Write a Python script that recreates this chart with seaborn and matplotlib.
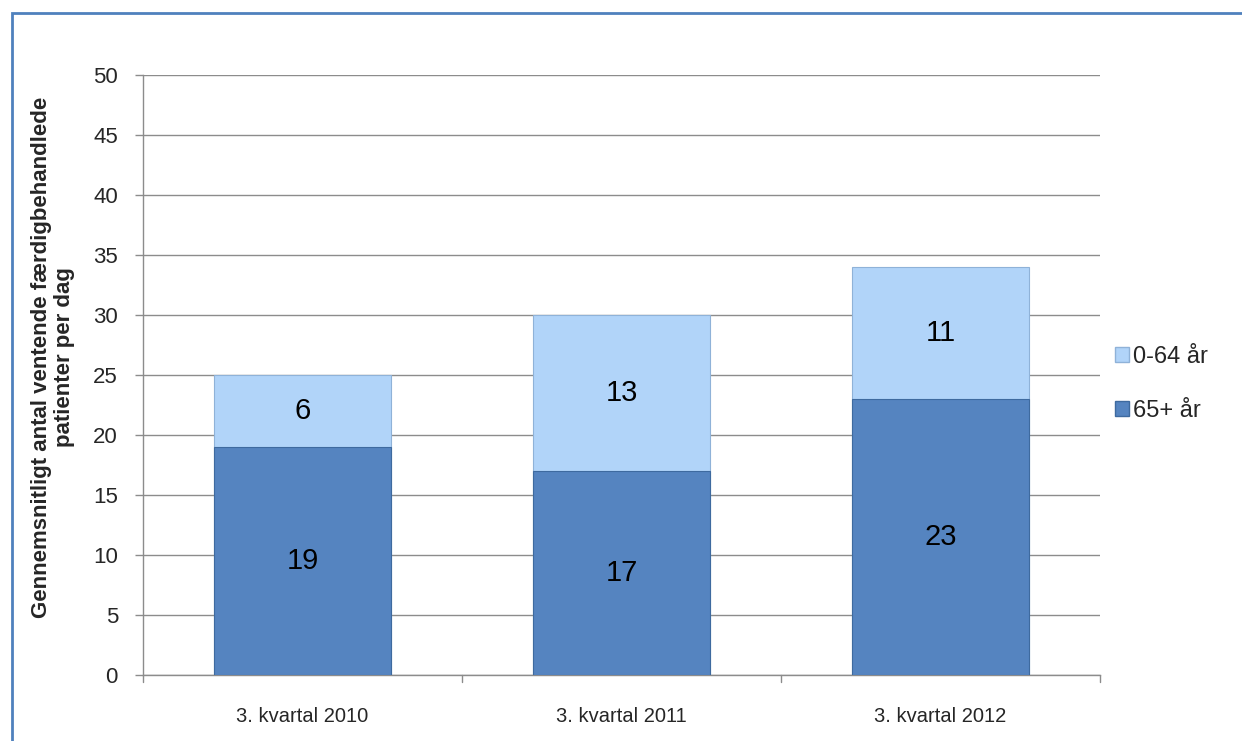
import matplotlib
matplotlib.use("Agg")
import matplotlib.pyplot as plt
import seaborn as sns
import pandas as pd
from matplotlib.patches import Rectangle, Patch

categories = ["3. kvartal 2010", "3. kvartal 2011", "3. kvartal 2012"]
old_vals = [19, 17, 23]      # 65+ år
young_vals = [6, 13, 11]     # 0-64 år
series_names = ["0-64 år", "65+ år"]
yticks = [0, 5, 10, 15, 20, 25, 30, 35, 40, 45, 50]

sns.set_theme(style="white")
plt.rcParams['font.family'] = ['Liberation Sans', 'DejaVu Sans']

dark = "#5584C0"
light = "#B1D4F9"

df = pd.DataFrame({"cat": categories, "old": old_vals, "young": young_vals})
df["total"] = df["old"] + df["young"]

fig = plt.figure(figsize=(12.42, 7.41), dpi=100)
ax = fig.add_axes([143/1242, 66/741, 957/1242, 600/741])

sns.barplot(data=df, x="cat", y="total", color=light, width=0.555, ax=ax,
            saturation=1, edgecolor="#8FB2D8", linewidth=0.8, zorder=3)
sns.barplot(data=df, x="cat", y="old", color=dark, width=0.555, ax=ax,
            saturation=1, edgecolor="#3E6A9F", linewidth=0.8, zorder=4)

# labels
for i, (o, y) in enumerate(zip(old_vals, young_vals)):
    ax.text(i, o / 2, str(o), ha="center", va="center", fontsize=21, color="black", zorder=6)
    ax.text(i, o + y / 2, str(y), ha="center", va="center", fontsize=21, color="black", zorder=6)

ax.set_xlim(-0.5, 2.5)
ax.set_ylim(0, 50)
ax.set_yticks(yticks)
ax.set_yticklabels([str(t) for t in yticks], fontsize=16)
ax.yaxis.grid(True, color="#8C8C8C", linewidth=1, zorder=0)
ax.set_axisbelow(True)

ax.set_xticks([0, 1, 2])
ax.set_xticklabels(categories, fontsize=14.5)
ax.tick_params(axis="x", length=0, pad=23)
ax.tick_params(axis="y", length=6, color="#8C8C8C", width=1, left=True, pad=12)
for xb in [-0.5, 0.5, 1.5, 2.5]:
    ax.plot([xb, xb], [0, -0.012], transform=ax.get_xaxis_transform(), color="#8C8C8C",
            linewidth=1, clip_on=False)

for s in ["top", "right"]:
    ax.spines[s].set_visible(False)
for s in ["left", "bottom"]:
    ax.spines[s].set_color("#8C8C8C")
    ax.spines[s].set_linewidth(1)

ax.set_xlabel("")
ax.set_ylabel("Gennemsnitligt antal ventende færdigbehandlede\npatienter per dag",
              fontsize=16, fontweight="bold", linespacing=1.1)
ax.yaxis.set_label_coords((75 - 143) / 957, 0.53)

handles = [Patch(facecolor=light, edgecolor="#8FB2D8"), Patch(facecolor=dark, edgecolor="#3E6A9F")]
fig.legend(handles, series_names, loc="center left", bbox_to_anchor=(1098/1242, 1 - 384/741),
           frameon=False, fontsize=17, handlelength=0.6, handleheight=0.6,
           handletextpad=0.2, labelspacing=1.35, borderpad=0.2)

fig.patches.append(Rectangle((12/1242, -0.05), 1.2, 1 - 13/741 + 0.05,
                             transform=fig.transFigure, fill=False,
                             edgecolor="#4F81BD", linewidth=2))

fig.savefig("out.png", dpi=100)
